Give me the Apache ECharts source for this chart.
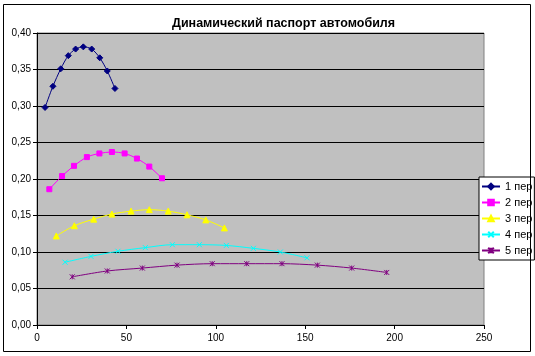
<!DOCTYPE html>
<html><head><meta charset="utf-8">
<script src="https://cdn.jsdelivr.net/npm/echarts@6/dist/echarts.min.js"></script>
<style>html,body{margin:0;padding:0;background:#fff}#c{width:535px;height:356px}</style>
</head><body><div id="c"></div>
<script>
const title = "Динамический паспорт автомобиля";
const names = ["1 пер", "2 пер", "3 пер", "4 пер", "5 пер"];
const x1 = [4.5, 8.9, 13.3, 17.5, 21.6, 25.9, 30.6, 35.1, 39.3, 43.6];
const y1 = [0.298, 0.327, 0.351, 0.369, 0.378, 0.381, 0.378, 0.366, 0.348, 0.324];
const x2 = [6.9, 14.0, 20.7, 27.9, 34.9, 41.9, 49.0, 55.9, 62.8, 69.9];
const y2 = [0.186, 0.204, 0.218, 0.230, 0.235, 0.237, 0.235, 0.228, 0.217, 0.201];
const x3 = [10.8, 20.9, 31.7, 41.9, 52.6, 62.8, 73.4, 83.9, 94.4, 104.8];
const y3 = [0.122, 0.136, 0.145, 0.152, 0.156, 0.158, 0.156, 0.151, 0.144, 0.133];
const x4 = [15.7, 30.2, 45.3, 60.6, 75.7, 90.8, 105.9, 121.0, 136.1, 151.0];
const y4 = [0.086, 0.094, 0.101, 0.106, 0.110, 0.110, 0.109, 0.105, 0.100, 0.092];
const x5 = [19.7, 39.3, 58.9, 78.3, 98.0, 117.3, 137.0, 156.8, 176.0, 195.6];
const y5 = [0.066, 0.074, 0.078, 0.082, 0.084, 0.084, 0.084, 0.082, 0.078, 0.072];
const xTicks = [0, 50, 100, 150, 200, 250];
const yTicks = [0, 0.05, 0.10, 0.15, 0.20, 0.25, 0.30, 0.35, 0.40];

const xs = [x1, x2, x3, x4, x5];
const ys = [y1, y2, y3, y4, y5];
const colors = ["#000080", "#FF00FF", "#FFFF00", "#00FFFF", "#800080"];
const symbols = [
  "diamond", "rect", "triangle",
  "path://M0,0L10,10M10,0L0,10",
  "path://M0,0L10,10M10,0L0,10M5,0L5,10"
];
const sizes = [6, 5, 6, 5, 5];

const chart = echarts.init(document.getElementById('c'));
chart.setOption({
  backgroundColor: '#fff',
  animation: false,
  title: {
    text: title, left: 167, top: 12,
    textStyle: { fontFamily: 'Liberation Sans, Arial', fontSize: 12.5, fontWeight: 'bold', color: '#000' }
  },
  graphic: [{
    type: 'rect', shape: { x: 3.5, y: 4.5, width: 527, height: 347 },
    style: { fill: 'none', stroke: '#000', lineWidth: 1 }, z: 100
  }],
  legend: {
    orient: 'vertical', left: 479, top: 177,
    backgroundColor: '#fff', borderColor: '#000', borderWidth: 1,
    padding: [4, 2, 4, 2], itemGap: 5, itemWidth: 18, itemHeight: 7,
    textStyle: { fontFamily: 'Liberation Sans, Arial', fontSize: 11, color: '#000' },
    data: names
  },
  grid: {
    left: 37, top: 33, right: 51, bottom: 31,
    show: true, backgroundColor: '#C0C0C0', borderColor: '#808080', borderWidth: 1
  },
  xAxis: {
    type: 'value', min: xTicks[0], max: xTicks[xTicks.length - 1], interval: 50,
    axisLine: { show: true, lineStyle: { color: '#000', width: 1 } },
    axisTick: { show: true, length: 4, lineStyle: { color: '#000' } },
    axisLabel: { fontFamily: 'Liberation Sans, Arial', fontSize: 10, color: '#000', margin: 8 },
    splitLine: { show: false }
  },
  yAxis: {
    type: 'value', min: yTicks[0], max: yTicks[yTicks.length - 1], interval: 0.05,
    axisLine: { show: true, lineStyle: { color: '#000', width: 1 } },
    axisTick: { show: true, length: 4, lineStyle: { color: '#000' } },
    axisLabel: { fontFamily: 'Liberation Sans, Arial', fontSize: 10, color: '#000', margin: 6,
      formatter: v => v.toFixed(2).replace('.', ',') },
    splitLine: { show: true, lineStyle: { color: '#000', width: 1 } }
  },
  series: names.map((n, i) => ({
    name: n, type: 'line', smooth: 0.3,
    data: xs[i].map((x, j) => [x, ys[i][j]]),
    symbol: symbols[i], symbolSize: sizes[i],
    showAllSymbol: true,
    itemStyle: { color: colors[i], borderColor: colors[i], borderWidth: 1 },
    lineStyle: { color: colors[i], width: 1 }
  }))
});
</script></body></html>
